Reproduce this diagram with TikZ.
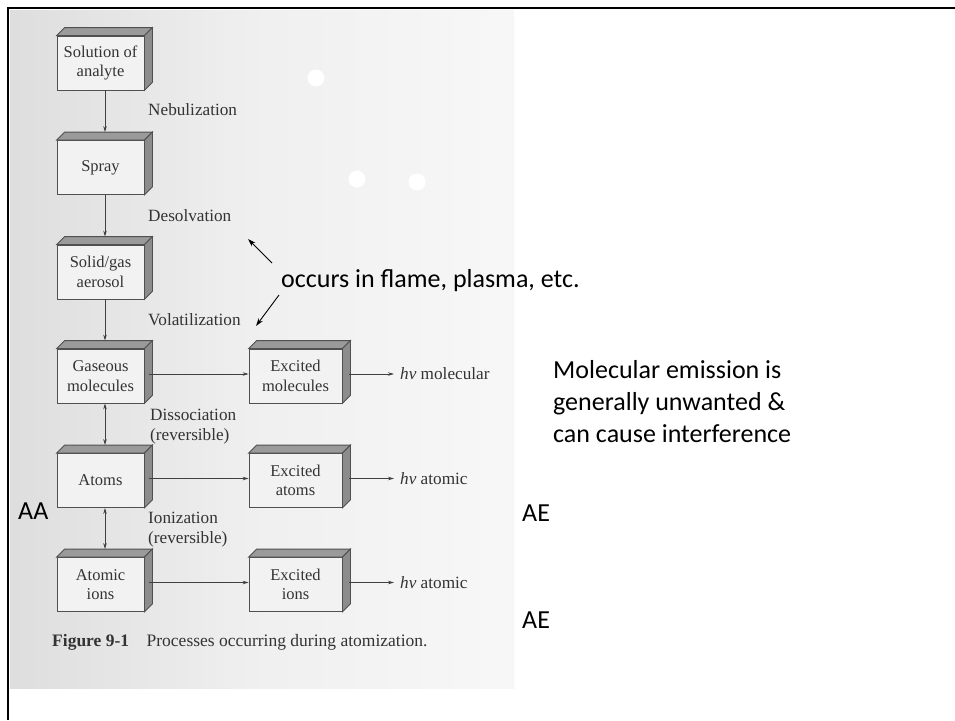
\documentclass[tikz,border=0pt]{standalone}
\usepackage{fontspec}
\setmainfont{Liberation Serif}
\newfontfamily\annfont{Carlito}
\usetikzlibrary{arrows.meta}
\definecolor{edgec}{HTML}{505050}
\definecolor{topc}{HTML}{9A9A9A}
\definecolor{sidec}{HTML}{8C8C8C}
\definecolor{frontc}{HTML}{F2F2F2}
\definecolor{linec}{HTML}{404040}
\tikzset{
  cube/.style={rectangle, draw=edgec, line width=0.8pt, fill=frontc,
    minimum width=87pt, minimum height=54pt, inner sep=0pt, align=center,
    font=\fontsize{16.5}{19.5}\selectfont, text=black!80},
  cubewide/.style={cube, minimum width=93pt},
  topface/.style={draw=edgec, line width=0.8pt, fill=topc},
  sideface/.style={draw=edgec, line width=0.8pt, fill=sidec},
  flow/.style={draw=linec, line width=0.8pt, -{Stealth[length=6pt,width=3.5pt]}},
  flowboth/.style={draw=linec, line width=0.8pt, {Stealth[length=6pt,width=3.5pt]}-{Stealth[length=6pt,width=3.5pt]}},
  proc/.style={anchor=west, inner sep=0pt, align=left, font=\fontsize{17.2}{20}\selectfont, text=black!80},
  note/.style={anchor=west, inner sep=0pt, align=left, font=\annfont\fontsize{26}{32}\selectfont},
  pointer/.style={draw=black, line width=0.9pt, -{Stealth[length=8pt,width=5pt]}},
  spot/.style={fill=white, draw=none}
}
\begin{document}
\begin{tikzpicture}[x=1pt, y=-1pt]
\useasboundingbox (0,0) rectangle (955,720);
\fill[white] (0,0) rectangle (955,720);
% scanned page
\shade[left color=black!13, right color=black!3, middle color=black!6] (10,10) rectangle (514,688);
\fill[spot] (316,78) circle (8.5);
\fill[spot] (357,179) circle (8.5);
\fill[spot] (417,182) circle (8.5);
% frame
\draw[line width=2.5pt, black] (8,720) -- (8,8) -- (955,8);

% boxes
\node[cube] (sol)   at (100.5,63)  {Solution of\\analyte};
\node[cube] (spray) at (100.5,167.5) {Spray};
\node[cube] (aero)  at (100.5,272) {Solid/gas\\aerosol};
\node[cube] (gas)   at (100.5,376) {Gaseous\\molecules};
\node[cube] (atoms) at (100.5,480.5) {Atoms};
\node[cube] (ions)  at (100.5,584.5) {Atomic\\ions};
\node[cubewide] (exmol) at (295.5,376) {Excited\\molecules};
\node[cubewide] (exat)  at (295.5,480.5) {Excited\\atoms};
\node[cubewide] (exion) at (295.5,584.5) {Excited\\ions};

\foreach \n in {sol,spray,aero,gas,atoms,ions,exmol,exat,exion}{
  \path[topface] (\n.north west) -- ++(8pt,8pt) -- ([shift={(8pt,8pt)}]\n.north east) -- (\n.north east) -- cycle;
  \path[sideface] (\n.north east) -- ++(8pt,8pt) -- ([shift={(8pt,8pt)}]\n.south east) -- (\n.south east) -- cycle;
}

% vertical connectors
\draw[flow] ([xshift=4.5pt]sol.south) -- ([shift={(4.5pt,8pt)}]spray.north);
\draw[flow] ([xshift=4.5pt]spray.south) -- ([shift={(4.5pt,8pt)}]aero.north);
\draw[flow] ([xshift=4.5pt]aero.south) -- ([shift={(4.5pt,8pt)}]gas.north);
\draw[flowboth] ([xshift=4.5pt]gas.south) -- ([shift={(4.5pt,8pt)}]atoms.north);
\draw[flowboth] ([xshift=4.5pt]atoms.south) -- ([shift={(4.5pt,8pt)}]ions.north);

% horizontal connectors
\draw[flow] ([shift={(5pt,2pt)}]gas.east) -- ([yshift=2pt]exmol.west);
\draw[flow] ([shift={(5pt,2pt)}]atoms.east) -- ([yshift=2pt]exat.west);
\draw[flow] ([shift={(5pt,2pt)}]ions.east) -- ([yshift=2pt]exion.west);

% emission labels
\node[proc] (hvmol) at (400,374) {{\itshape hν} molecular};
\node[proc] (hvat)  at (400,478.5) {{\itshape hν} atomic};
\node[proc] (hvion) at (400,582.5) {{\itshape hν} atomic};
\draw[flow] ([shift={(7pt,2pt)}]exmol.east) -- ([xshift=-6pt]hvmol.west);
\draw[flow] ([shift={(7pt,2pt)}]exat.east) -- ([xshift=-6pt]hvat.west);
\draw[flow] ([shift={(7pt,2pt)}]exion.east) -- ([xshift=-6pt]hvion.west);

% process labels
\node[proc] (neb) at (148,110) {Nebulization};
\node[proc] (des) at (148,216) {Desolvation};
\node[proc] (vol) at (148,320) {Volatilization};
\node[proc] (dis) at (150,427) {Dissociation\\(reversible)};
\node[proc] (ion) at (148,530) {Ionization\\(reversible)};
\node[proc, font=\fontsize{17.5}{20}\selectfont] (cap) at (52,642) {\textbf{Figure 9-1}\quad Processes occurring during atomization.};

% annotations
\node[note] (occ) at (281,281) {occurs in flame, plasma, etc.};
\coordinate (p1s) at (272,263);
\coordinate (p1e) at (248,239);
\coordinate (p2s) at (279,295);
\coordinate (p2e) at (256,326);
\draw[pointer] (p1s) -- (p1e);
\draw[pointer] (p2s) -- (p2e);
\node[note] (mol) at (553,402) {Molecular emission is\\generally unwanted \&\\can cause interference};
\node[note] (aa)  at (18,511) {AA};
\node[note] (ae1) at (522,513) {AE};
\node[note] (ae2) at (522,620) {AE};
\end{tikzpicture}
\end{document}
